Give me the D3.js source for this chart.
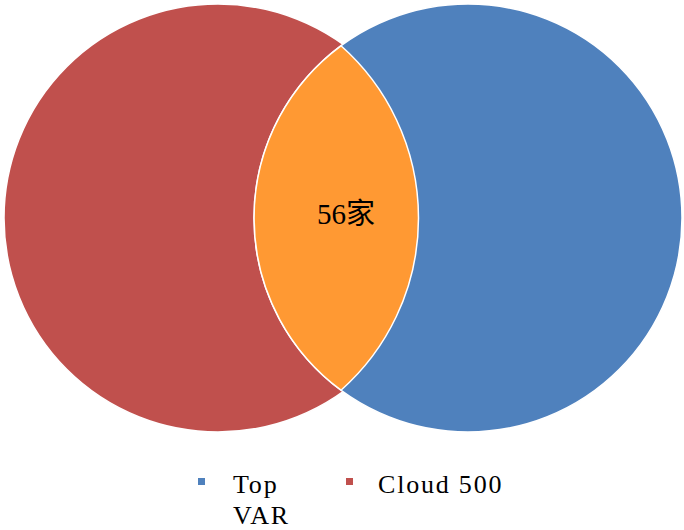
<!DOCTYPE html>
<html>

<head>
  <meta charset="UTF-8">
  <title>Venn</title>
  <script src="https://d3js.org/d3.v7.min.js"></script>
  <style>
    body { margin: 0; background: #fff; }
    text { font-family: "Liberation Serif", "Noto Sans CJK SC", serif; fill: #000; }
  </style>
</head>

<body>
  <svg></svg>
</body>

<script>
  // chart values
  const setNames = ["Top VAR", "Cloud 500"];
  const setX = [2, 1];
  const setY = [1, 1];
  const setSize = [100, 100];
  const setColors = ["#4F81BD", "#C0504D"];
  const overlapLabel = "56家";
  const overlapColor = "#FF9933";

  let width = 684,
    height = 530;

  let svg = d3.select("svg")
    .attr("width", width)
    .attr("height", height);

  let x = d3.scaleLinear().domain([1, 2]).range([218, 468]);
  let y = d3.scaleLinear().domain([0, 2]).range([436, 0]);
  let r = d3.scaleSqrt().domain([0, 100]).range([0, 214]);

  let sets = setNames.map((n, i) => ({
    name: n, x: setX[i], y: setY[i], size: setSize[i], color: setColors[i]
  }));

  // Cloud 500 sits underneath Top VAR
  svg.append("g")
    .selectAll("circle")
    .data(sets.slice().reverse())
    .enter()
    .append("circle")
    .attr("cx", d => x(d.x))
    .attr("cy", d => y(d.y))
    .attr("r", d => r(d.size))
    .attr("fill", d => d.color)
    .attr("stroke", "#fff")
    .attr("stroke-width", 1.5);

  // overlap lens from the two circles' crossing points
  let a = sets[1], b = sets[0];
  let ax = x(a.x), ay = y(a.y), ra = r(a.size);
  let bx = x(b.x), by = y(b.y), rb = r(b.size);
  let dist = Math.hypot(bx - ax, by - ay);
  let along = (dist * dist + ra * ra - rb * rb) / (2 * dist);
  let half = Math.sqrt(ra * ra - along * along) - 1.5;
  let mx = ax + along * (bx - ax) / dist;
  let my = ay + along * (by - ay) / dist;
  let lensTop = [mx - 2, my - half], lensBottom = [mx - 2, my + half];
  let rRight = ra * 1.075, rLeft = rb;

  svg.append("path")
    .attr("d", "M" + lensTop[0] + "," + lensTop[1] +
      "A" + rRight + "," + rRight + " 0 0,1 " + lensBottom[0] + "," + lensBottom[1] +
      "A" + rLeft + "," + rLeft + " 0 0,1 " + lensTop[0] + "," + lensTop[1] + "Z")
    .attr("fill", overlapColor)
    .attr("stroke", "#fff")
    .attr("stroke-width", 1.5);

  svg.append("text")
    .attr("x", mx + 3)
    .attr("y", my + 6)
    .attr("text-anchor", "middle")
    .style("font-size", "29px")
    .text(overlapLabel);

  // legend
  let legendX = [198, 346];
  let legend = svg.append("g")
    .selectAll("g")
    .data(sets)
    .enter()
    .append("g")
    .attr("transform", (d, i) => "translate(" + legendX[i] + ",478)");

  legend.append("rect")
    .attr("width", 7)
    .attr("height", 7)
    .attr("fill", d => d.color);

  legend.append("text")
    .attr("x", (d, i) => i == 0 ? 35 : 32)
    .attr("y", 15)
    .style("font-size", "26px")
    .style("letter-spacing", "1.8px")
    .each(function(d, i) {
      let t = d3.select(this);
      let lines = i == 0 ? d.name.split(" ") : [d.name];
      lines.forEach((l, j) => {
        t.append("tspan")
          .attr("x", i == 0 ? 35 : 32)
          .attr("dy", j == 0 ? 0 : 31)
          .text(l);
      });
    });
</script>
</html>
